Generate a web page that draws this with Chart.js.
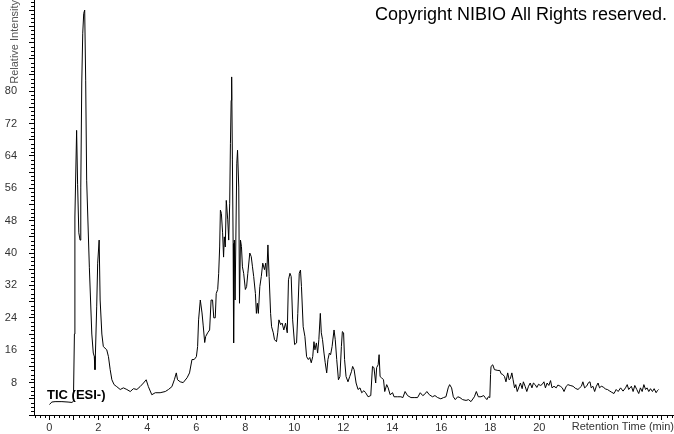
<!DOCTYPE html>
<html>
<head>
<meta charset="utf-8">
<script src="https://cdn.jsdelivr.net/npm/chart.js@4"></script>
<style>
  body { margin: 0; background: #fff; }
  canvas { display: block; }
</style>
</head>
<body>
<canvas id="tic" width="674" height="434"></canvas>
<script>
// retention time (min) and relative intensity
const retentionTime = [
  0.00, 0.10, 0.23, 0.51, 0.76, 0.92, 0.98, 1.02, 1.04, 1.11, 1.15, 1.20, 1.25, 1.28, 1.32, 1.36,
  1.40, 1.44, 1.48, 1.52, 1.63, 1.73, 1.79, 1.83, 1.86, 1.93, 1.97, 2.03, 2.07, 2.14, 2.20, 2.34,
  2.41, 2.48, 2.55, 2.64, 2.75, 2.89, 3.02, 3.16, 3.30, 3.43, 3.57, 3.70, 3.84, 3.95, 4.04, 4.18,
  4.32, 4.52, 4.73, 4.86, 5.00, 5.10, 5.18, 5.23, 5.34, 5.46, 5.62, 5.72, 5.82, 5.91, 6.00, 6.05,
  6.09, 6.16, 6.23, 6.28, 6.34, 6.38, 6.46, 6.54, 6.60, 6.66, 6.71, 6.77, 6.81, 6.87, 6.91, 6.95,
  6.98, 7.02, 7.07, 7.11, 7.14, 7.18, 7.22, 7.28, 7.32, 7.36, 7.39, 7.42, 7.44, 7.47, 7.50, 7.52,
  7.55, 7.58, 7.65, 7.68, 7.73, 7.76, 7.80, 7.84, 7.88, 7.93, 8.00, 8.05, 8.10, 8.18, 8.24, 8.29,
  8.34, 8.41, 8.45, 8.49, 8.53, 8.59, 8.65, 8.71, 8.78, 8.83, 8.87, 8.92, 8.97, 9.03, 9.07, 9.14,
  9.19, 9.27, 9.32, 9.37, 9.44, 9.50, 9.57, 9.64, 9.71, 9.76, 9.82, 9.87, 9.93, 10.01, 10.09, 10.14,
  10.20, 10.25, 10.29, 10.36, 10.43, 10.50, 10.57, 10.63, 10.69, 10.75, 10.80, 10.84, 10.90, 10.95, 11.00, 11.06,
  11.10, 11.15, 11.21, 11.26, 11.32, 11.37, 11.43, 11.48, 11.54, 11.62, 11.67, 11.73, 11.80, 11.86, 11.92, 11.96,
  12.01, 12.05, 12.11, 12.19, 12.26, 12.33, 12.38, 12.44, 12.52, 12.60, 12.68, 12.75, 12.84, 12.91, 13.01, 13.12,
  13.19, 13.25, 13.32, 13.36, 13.42, 13.46, 13.50, 13.56, 13.64, 13.69, 13.77, 13.83, 13.91, 14.01, 14.07, 14.22,
  14.35, 14.43, 14.52, 14.62, 14.76, 14.89, 15.03, 15.14, 15.24, 15.30, 15.41, 15.51, 15.64, 15.74, 15.85, 15.98,
  16.09, 16.19, 16.28, 16.34, 16.42, 16.49, 16.57, 16.67, 16.76, 16.87, 17.01, 17.11, 17.21, 17.35, 17.43, 17.51,
  17.62, 17.73, 17.79, 17.86, 17.92, 17.98, 18.01, 18.03, 18.10, 18.17, 18.31, 18.39, 18.44, 18.51, 18.58, 18.64,
  18.71, 18.77, 18.82, 18.88, 18.93, 18.99, 19.04, 19.10, 19.18, 19.23, 19.30, 19.35, 19.42, 19.49, 19.56, 19.63,
  19.70, 19.76, 19.83, 19.90, 19.97, 20.04, 20.11, 20.19, 20.25, 20.32, 20.39, 20.46, 20.52, 20.60, 20.69, 20.76,
  20.86, 20.94, 21.01, 21.10, 21.17, 21.26, 21.38, 21.47, 21.58, 21.65, 21.72, 21.78, 21.85, 21.93, 22.01, 22.07,
  22.12, 22.19, 22.26, 22.33, 22.40, 22.46, 22.53, 22.62, 22.70, 22.78, 22.88, 22.96, 23.05, 23.14, 23.22, 23.32,
  23.42, 23.52, 23.59, 23.65, 23.76, 23.83, 23.90, 23.98, 24.06, 24.13, 24.20, 24.27, 24.34, 24.40, 24.47, 24.54,
  24.62, 24.69, 24.77, 24.82, 24.87
];
const intensity = [
  2.6, 3.2, 3.3, 3.3, 3.2, 3.1, 3.4, 20.0, 48.9, 70.3, 57.0, 45.0, 43.2, 56.3, 82.0, 94.3,
  99.2, 100.0, 82.7, 58.0, 36.5, 20.0, 15.3, 14.5, 11.2, 26.7, 37.5, 43.2, 28.4, 20.0, 16.9, 16.1,
  14.4, 11.2, 8.7, 7.5, 7.0, 6.3, 6.7, 6.3, 5.8, 6.5, 6.3, 7.0, 7.9, 8.7, 7.0, 5.0,
  5.5, 5.5, 5.8, 6.3, 7.0, 8.7, 10.4, 8.7, 8.2, 8.0, 9.2, 10.4, 13.7, 13.7, 14.4, 16.9,
  23.5, 28.4, 25.2, 22.0, 17.9, 19.4, 20.3, 21.0, 28.4, 28.4, 24.0, 24.0, 30.0, 31.0, 35.0, 41.5,
  50.6, 49.8, 45.0, 39.0, 44.0, 41.5, 53.0, 48.2, 43.2, 52.3, 67.0, 77.7, 83.5, 63.0, 42.4, 17.8,
  43.2, 28.4, 62.2, 65.4, 56.3, 27.6, 43.2, 41.6, 36.6, 35.0, 31.0, 31.7, 35.0, 40.0, 39.1, 36.6,
  34.2, 30.0, 25.1, 27.6, 25.1, 31.7, 34.2, 37.5, 35.9, 37.5, 34.2, 42.0, 34.2, 25.1, 21.8, 20.3,
  18.6, 18.1, 20.3, 23.5, 22.3, 22.7, 21.0, 22.7, 20.3, 33.4, 35.0, 34.2, 23.5, 17.4, 17.8, 25.1,
  35.0, 35.8, 31.7, 21.8, 19.4, 14.4, 13.7, 14.2, 12.9, 14.4, 18.1, 16.1, 17.8, 15.3, 18.6, 25.1,
  20.3, 18.6, 15.3, 12.9, 10.4, 13.7, 15.3, 14.9, 16.9, 21.0, 18.6, 13.7, 8.7, 9.5, 16.9, 20.6,
  20.3, 13.7, 9.5, 8.2, 9.5, 10.7, 12.0, 11.2, 7.9, 6.3, 6.7, 5.5, 6.0, 5.5, 4.5, 4.8,
  12.0, 11.7, 7.9, 11.7, 12.4, 14.9, 9.5, 9.2, 8.7, 5.8, 7.5, 6.7, 5.0, 5.5, 4.5, 4.5,
  4.5, 4.3, 5.8, 4.8, 4.3, 4.3, 4.3, 5.5, 4.8, 5.0, 5.8, 5.0, 4.5, 4.8, 4.3, 4.0,
  4.3, 4.5, 6.7, 7.5, 6.7, 4.5, 3.8, 4.5, 4.3, 3.8, 3.6, 3.8, 3.3, 4.5, 5.8, 4.5,
  4.5, 4.8, 4.3, 3.8, 4.5, 4.3, 10.0, 12.0, 12.4, 11.2, 11.0, 11.0, 10.2, 10.0, 9.5, 8.2,
  10.4, 8.7, 9.0, 10.4, 8.7, 6.7, 7.5, 5.8, 7.1, 7.9, 6.5, 8.2, 7.1, 5.8, 7.1, 7.9,
  6.7, 7.9, 7.5, 6.8, 7.6, 7.3, 7.5, 8.2, 6.7, 7.9, 7.3, 8.5, 6.7, 7.1, 6.7, 7.4,
  7.1, 6.7, 5.8, 7.1, 7.5, 7.3, 7.1, 6.6, 6.3, 6.7, 7.1, 8.2, 6.7, 7.1, 8.0, 8.2,
  6.7, 7.1, 5.8, 7.1, 7.9, 6.7, 7.1, 6.9, 6.4, 6.3, 5.9, 5.6, 5.3, 6.3, 5.8, 6.7,
  5.9, 6.7, 7.5, 6.3, 7.1, 5.8, 7.3, 6.3, 5.3, 6.7, 5.8, 7.5, 6.3, 6.7, 5.8, 6.5,
  5.8, 6.5, 5.5, 6.0, 6.3
];

const xLabelMax = 20;          // x labels printed 0..20 every 2
const yLabels = [8, 16, 24, 32, 40, 48, 56, 64, 72, 80];
const xTitle = 'Retention Time (min)';
const yTitle = 'Relative Intensity';
const traceLabel = 'TIC (ESI-)';
const copyright = 'Copyright NIBIO All Rights reserved.';

const FONT = "'Liberation Sans', Arial, sans-serif";

const points = retentionTime.map((t, i) => ({ x: t, y: intensity[i] }));

// small ticks between the labelled ones, plus the two captions
const extras = {
  id: 'extras',
  afterDraw(chart) {
    const { ctx, scales: { x, y } } = chart;
    ctx.save();
    ctx.strokeStyle = '#000';
    ctx.lineWidth = 1;
    ctx.beginPath();
    for (let i = -3; i <= 127; i++) {
      if (i % 5 === 0) continue;
      const px = Math.round(x.getPixelForValue(i / 5)) + 0.5;
      if (px < x.left || px > x.right) continue;
      ctx.moveTo(px, y.bottom);
      ctx.lineTo(px, y.bottom + 3);
    }
    for (let v = 1; v <= 102; v++) {
      if (v % 4 === 0) continue;
      const py = Math.round(y.getPixelForValue(v)) + 0.5;
      ctx.moveTo(x.left, py);
      ctx.lineTo(x.left - 3, py);
    }
    ctx.stroke();

    ctx.fillStyle = '#000';
    ctx.textBaseline = 'alphabetic';
    ctx.font = '18px ' + FONT;
    ctx.textAlign = 'right';
    ctx.fillText(copyright, 667, 20);
    ctx.font = 'bold 13px ' + FONT;
    ctx.textAlign = 'left';
    ctx.fillText(traceLabel, 47, 399);
    ctx.restore();
  }
};

// keep the plot box tight to the canvas edges
const squeeze = (s, size) => {
  if (s.isHorizontal()) s.height = size; else s.width = size;
  s.paddingTop = 0;
  s.paddingBottom = 0;
  s.paddingLeft = 0;
  s.paddingRight = 0;
};

new Chart(document.getElementById('tic'), {
  type: 'line',
  data: {
    datasets: [{
      data: points,
      borderColor: '#000',
      borderWidth: 1,
      pointRadius: 0,
      tension: 0,
      fill: false
    }]
  },
  options: {
    responsive: false,
    animation: false,
    devicePixelRatio: 1,
    layout: { padding: 0 },
    plugins: { legend: { display: false }, tooltip: { enabled: false } },
    scales: {
      x: {
        type: 'linear',
        min: -0.63,
        max: 25.5,
        border: { display: true, color: '#000', width: 1 },
        grid: { drawOnChartArea: false, drawTicks: true, tickLength: 5, color: '#000' },
        ticks: {
          stepSize: 1,
          includeBounds: false,
          autoSkip: false,
          maxRotation: 0,
          padding: 1,
          color: '#333',
          font: { family: FONT, size: 11 },
          callback: v => (v % 2 === 0 && v <= xLabelMax) ? v : ''
        },
        title: {
          display: true,
          text: xTitle,
          align: 'end',
          padding: 0,
          color: '#333',
          font: { family: FONT, size: 11 }
        },
        afterFit: s => squeeze(s, 19)
      },
      y: {
        min: 0,
        max: 102.5,
        border: { display: true, color: '#000', width: 1 },
        grid: { drawOnChartArea: false, drawTicks: true, tickLength: 5, color: '#000' },
        ticks: {
          stepSize: 4,
          includeBounds: false,
          autoSkip: false,
          padding: 12,
          color: '#333',
          font: { family: FONT, size: 11 },
          callback: v => yLabels.includes(v) ? v : ''
        },
        title: {
          display: true,
          text: yTitle,
          align: 'end',
          padding: { top: 8 },
          color: '#555',
          font: { family: FONT, size: 11 }
        },
        afterFit: s => squeeze(s, 34)
      }
    }
  },
  plugins: [extras]
});
</script>
</body>
</html>
